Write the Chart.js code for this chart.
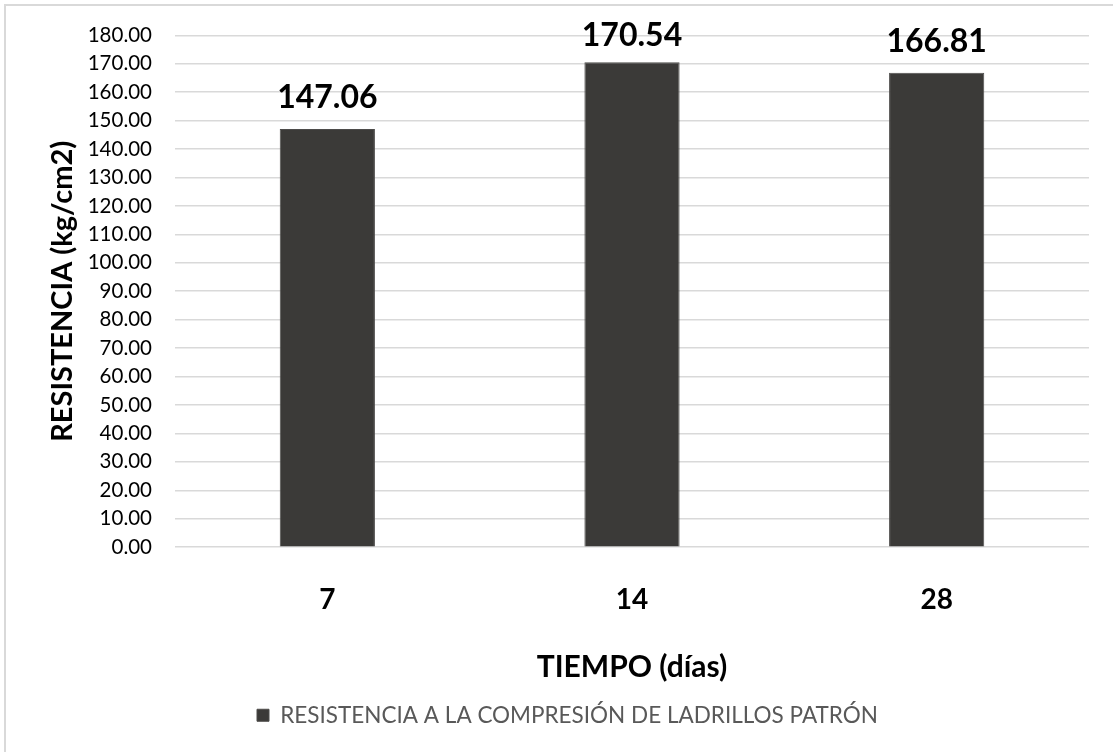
<!DOCTYPE html>
<html lang="es">
<head>
<meta charset="utf-8">
<title>Resistencia a la compresión</title>
<script src="https://cdn.jsdelivr.net/npm/chart.js@4.4.1/dist/chart.umd.min.js"></script>
<style>
  html, body { margin: 0; padding: 0; background: #fff; overflow: hidden; }
  body { width: 1113px; height: 752px; position: relative; }
  #marco {
    position: absolute; left: 4px; top: 4px;
    width: 1200px; height: 800px;
    border: 2px solid #d9d9d9; box-sizing: border-box;
  }
  #grafico { position: absolute; left: 0; top: 0; }
</style>
</head>
<body>
<div id="marco"></div>
<canvas id="grafico" width="1135" height="752"></canvas>
<script>
(function () {
    'use strict';

    // datos del ensayo
    var dias = ['7', '14', '28'];
    var resistencia = [147.06, 170.54, 166.81];
    var serie = 'RESISTENCIA A LA COMPRESIÓN DE LADRILLOS PATRÓN';
    var ejeY = { min: 0, max: 180, paso: 10 };

    var FONT = 'Lato, "Open Sans", sans-serif';

    // etiquetas de valor encima de cada barra
    var etiquetasValor = {
        id: 'etiquetasValor',
        afterDatasetsDraw: function (chart) {
            var ctx = chart.ctx;
            var meta = chart.getDatasetMeta(0);
            ctx.save();
            ctx.font = 'bold 32px ' + FONT;
            ctx.fillStyle = '#000';
            ctx.textAlign = 'center';
            ctx.textBaseline = 'alphabetic';
            meta.data.forEach(function (bar, i) {
                var y = Math.max(bar.y - 21, 46);
                ctx.fillText(resistencia[i].toFixed(2), bar.x, y);
            });
            ctx.restore();
        }
    };

    function dibujar() {
        var ctx = document.getElementById('grafico').getContext('2d');
        new Chart(ctx, {
            type: 'bar',
            data: {
                labels: dias,
                datasets: [{
                    label: serie,
                    data: resistencia,
                    backgroundColor: '#3b3a38',
                    borderColor: '#4d4c4a',
                    borderWidth: 1,
                    barPercentage: 1,
                    categoryPercentage: 0.3125
                }]
            },
            options: {
                responsive: false,
                animation: false,
                layout: { padding: { top: 33.5, right: 46, bottom: 15.5, left: 46 } },
                plugins: {
                    tooltip: { enabled: false },
                    legend: {
                        position: 'bottom',
                        labels: {
                            boxWidth: 12,
                            boxHeight: 12,
                            padding: 10,
                            color: '#595959',
                            font: { family: FONT, size: 22.5 }
                        }
                    }
                },
                scales: {
                    x: {
                        offset: true,
                        grid: { display: false },
                        border: { display: false },
                        ticks: {
                            color: '#000',
                            padding: 28,
                            font: { family: FONT, size: 28, weight: 'bold' }
                        },
                        title: {
                            display: true,
                            text: 'TIEMPO (días)',
                            color: '#000',
                            font: { family: FONT, size: 30, weight: 'bold' },
                            padding: { top: 0, bottom: 9 }
                        },
                        afterFit: function (s) { s.height = 146.8; }
                    },
                    y: {
                        min: ejeY.min,
                        max: ejeY.max,
                        grid: { color: '#d9d9d9', lineWidth: 1.5, drawTicks: false },
                        border: { display: false },
                        ticks: {
                            stepSize: ejeY.paso,
                            color: '#000',
                            padding: 23,
                            font: { family: FONT, size: 20.5 },
                            callback: function (v) { return Number(v).toFixed(2); }
                        },
                        title: {
                            display: true,
                            text: 'RESISTENCIA (kg/cm2)',
                            color: '#000',
                            font: { family: FONT, size: 29, weight: 'bold' },
                            padding: { top: -1, bottom: 0 }
                        },
                        afterFit: function (s) { s.width = 129; }
                    }
                }
            },
            plugins: [etiquetasValor]
        });
    }

    if (document.fonts && document.fonts.load) {
        Promise.all([
            document.fonts.load('20px Lato'),
            document.fonts.load('bold 30px Lato')
        ]).then(dibujar, dibujar);
    } else {
        dibujar();
    }
})();
</script>
</body>
</html>
